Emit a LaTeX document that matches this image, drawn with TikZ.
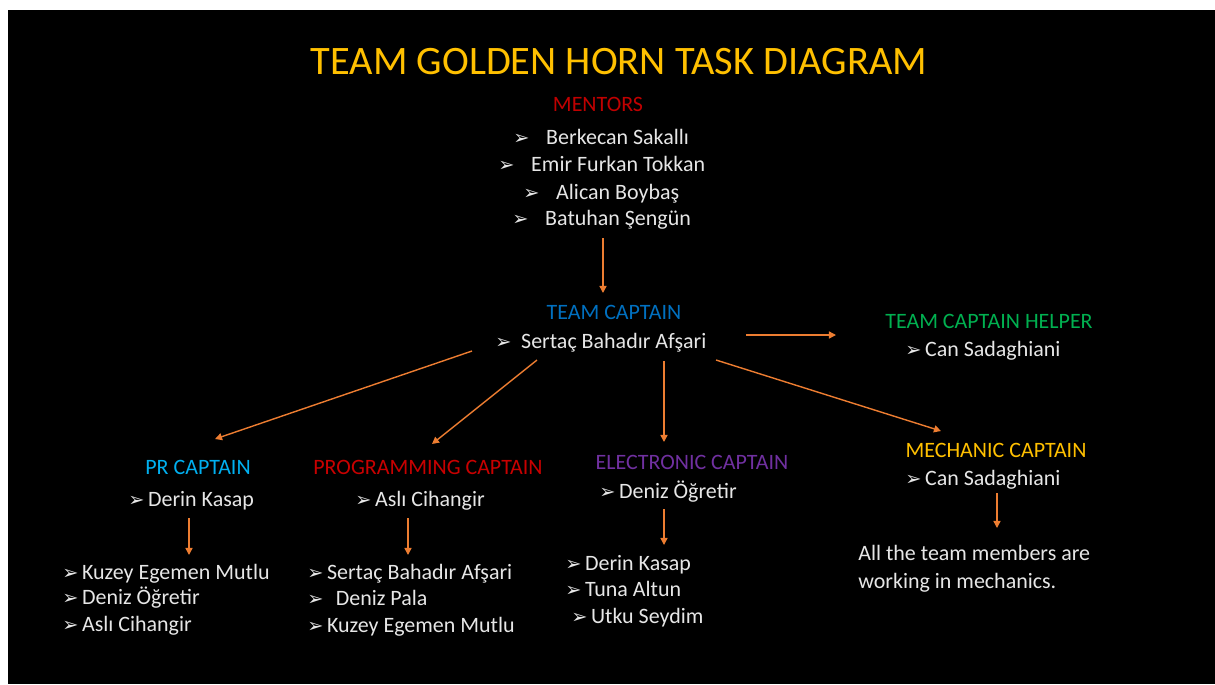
\documentclass[tikz,border=0pt]{standalone}
\usepackage{fontspec}
\usepackage{tikz}
\usetikzlibrary{arrows.meta,calc}
\setmainfont{Carlito}
\newfontfamily\symfont{DejaVu Sans}
\newcommand\arrbullet[1][2pt]{{\symfont\fontsize{11}{11}\selectfont ➢}\hspace{#1}}

\definecolor{titlegold}{RGB}{255,192,0}
\definecolor{mentorred}{RGB}{192,0,0}
\definecolor{captblue}{RGB}{0,112,192}
\definecolor{helpgreen}{RGB}{0,176,80}
\definecolor{prblue}{RGB}{0,176,240}
\definecolor{progred}{RGB}{200,0,0}
\definecolor{elecpurple}{RGB}{112,48,160}
\definecolor{arrorange}{RGB}{237,125,49}
\definecolor{bodygray}{RGB}{230,230,230}

\begin{document}
\begin{tikzpicture}[x=0.02cm,y=-0.02cm]
\tikzstyle{head}=[inner sep=0,anchor=base,font=\fontsize{12.5}{15}\selectfont];
\tikzstyle{item}=[inner sep=0,anchor=base west,text=bodygray,font=\fontsize{12.5}{15}\selectfont];
\tikzstyle{arr}=[draw=arrorange,line width=0.8pt,-{Triangle[length=4pt,width=4pt]}];

\useasboundingbox (0,0) rectangle (1215,684);
\fill [white] (0,0) rectangle (1215,684);
\fill [black] (8,10) rectangle (1215,684);

\node [inner sep=0,anchor=base,text=titlegold,font=\fontsize{23}{27}\selectfont] (title) at (619,74) {TEAM GOLDEN HORN TASK DIAGRAM};

% mentors
\node [head,text=mentorred] (mh) at (598,111) {MENTORS};
\node [item] (b1) at (513,144) {\arrbullet[9.5pt]Berkecan Sakallı};
\node [item] (b2) at (498,171) {\arrbullet[9.5pt]Emir Furkan Tokkan};
\node [item] (b3) at (523,199) {\arrbullet[9.5pt]Alican Boybaş};
\node [item] (b4) at (512,225) {\arrbullet[9.5pt]Batuhan Şengün};

% team captain
\node [head,text=captblue] (tc) at (614,319) {TEAM CAPTAIN};
\node [item] (sc) at (495,348) {\arrbullet[5.5pt]Sertaç Bahadır Afşari};

\node [head,text=helpgreen] (hh) at (989,328) {TEAM CAPTAIN HELPER};
\node [item] (hc) at (905,356) {\arrbullet Can Sadaghiani};

% captains
\node [head,text=prblue] (prh) at (198,474) {PR CAPTAIN};
\node [item] (prc) at (128,506) {\arrbullet Derin Kasap};
\node [head,text=progred] (pgh) at (428,474) {PROGRAMMING CAPTAIN};
\node [item] (pgc) at (355,506) {\arrbullet Aslı Cihangir};
\node [head,text=elecpurple] (elh) at (692,469) {ELECTRONIC CAPTAIN};
\node [item] (elc) at (599,498) {\arrbullet Deniz Öğretir};
\node [head,text=titlegold] (meh) at (996,457) {MECHANIC CAPTAIN};
\node [item] (mc) at (905,485) {\arrbullet Can Sadaghiani};

% members
\node [item] (pl1) at (62,579) {\arrbullet Kuzey Egemen Mutlu};
\node [item] (pl2) at (62,604) {\arrbullet Deniz Öğretir};
\node [item] (pl3) at (62,631) {\arrbullet Aslı Cihangir};

\node [item] (gl1) at (307,579) {\arrbullet Sertaç Bahadır Afşari};
\node [item] (gl2) at (307,605) {\arrbullet[7pt]Deniz Pala};
\node [item] (gl3) at (307,632) {\arrbullet Kuzey Egemen Mutlu};

\node [item] (el1) at (565,570) {\arrbullet Derin Kasap};
\node [item] (el2) at (565,596) {\arrbullet Tuna Altun};
\node [item] (el3) at (571,623) {\arrbullet Utku Seydim};

\node [item] (mt1) at (858,560) {All the team members are};
\node [item] (mt2) at (858,588) {working in mechanics.};

% arrows
\draw [arr] ($(b4.base west)+(91,13)$) -- ($(tc.base)+(-11,-26)$);
\draw [arr] ($(sc.base west)+(251,-13)$) -- ($(hh.base)+(-153,7)$);
\draw [arr] ($(sc.base west)+(-23,3)$) -- ($(prh.base)+(17,-35)$);
\draw [arr] ($(sc.base west)+(42,12)$) -- ($(pgh.base)+(4,-30)$);
\draw [arr] ($(sc.base west)+(169,13)$) -- ($(elh.base)+(-28,-27)$);
\draw [arr] ($(sc.base west)+(221,12)$) -- ($(meh.base)+(-55,-26)$);
\draw [arr] ($(prc.base west)+(61,12)$) -- ($(pl1.base west)+(127,-24)$);
\draw [arr] ($(pgc.base west)+(53,12)$) -- ($(gl1.base west)+(101,-24)$);
\draw [arr] ($(elc.base west)+(65,11)$) -- ($(el1.base west)+(99,-25)$);
\draw [arr] ($(mc.base west)+(92,8)$) -- ($(mt1.base west)+(139,-32)$);
\end{tikzpicture}
\end{document}
